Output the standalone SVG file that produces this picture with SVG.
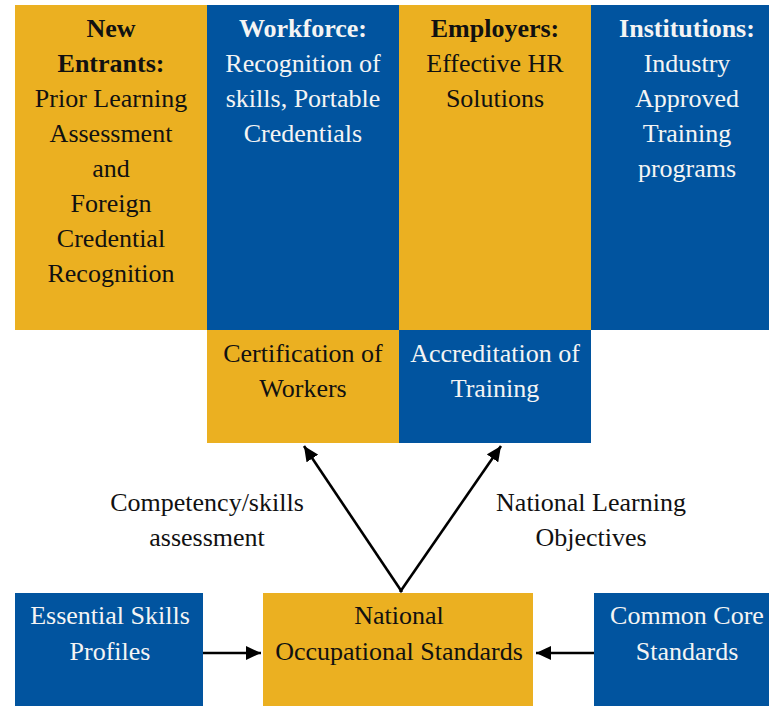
<svg xmlns="http://www.w3.org/2000/svg" width="769" height="707" viewBox="0 0 769 707">
<style>
.y{fill:#EBB021}
.b{fill:#01549F}
text,tspan{font-family:'Liberation Serif',serif !important}
text{font-size:26px;text-anchor:middle}
.dk{fill:#111}
.wt{fill:#F4F4F4}
.h{font-weight:bold}
.ln{stroke:#000;stroke-width:2.6;fill:none}
</style>
<defs>
<marker id="ah" markerUnits="userSpaceOnUse" markerWidth="16" markerHeight="14" refX="15" refY="7" orient="auto">
<path d="M0,0 L15,7 L0,14 z" fill="#000"/>
</marker>
</defs>
<rect width="769" height="707" fill="#fff"/>
<g id="new-entrants">
<rect class="y" x="15" y="5" width="192" height="325"/>
<text class="dk"><tspan class="h" x="111" y="37">New</tspan><tspan class="h" x="111" y="72">Entrants:</tspan><tspan x="111" y="107">Prior Learning</tspan><tspan x="111" y="142">Assessment</tspan><tspan x="111" y="177">and</tspan><tspan x="111" y="212">Foreign</tspan><tspan x="111" y="247">Credential</tspan><tspan x="111" y="282">Recognition</tspan></text>
</g>
<g id="workforce">
<rect class="b" x="207" y="5" width="192" height="325"/>
<text class="wt"><tspan class="h" x="303" y="37">Workforce:</tspan><tspan x="303" y="72">Recognition of</tspan><tspan x="303" y="107">skills, Portable</tspan><tspan x="303" y="142">Credentials</tspan></text>
</g>
<g id="employers">
<rect class="y" x="399" y="5" width="192" height="325"/>
<text class="dk"><tspan class="h" x="495" y="37">Employers:</tspan><tspan x="495" y="72">Effective HR</tspan><tspan x="495" y="107">Solutions</tspan></text>
</g>
<g id="institutions">
<rect class="b" x="591" y="5" width="178" height="325"/>
<text class="wt"><tspan class="h" x="687" y="37">Institutions:</tspan><tspan x="687" y="72">Industry</tspan><tspan x="687" y="107">Approved</tspan><tspan x="687" y="142">Training</tspan><tspan x="687" y="177">programs</tspan></text>
</g>
<g id="certification">
<rect class="y" x="207" y="330" width="192" height="113"/>
<text class="dk"><tspan x="303" y="362">Certification of</tspan><tspan x="303" y="397">Workers</tspan></text>
</g>
<g id="accreditation">
<rect class="b" x="399" y="330" width="192" height="113"/>
<text class="wt"><tspan x="495" y="362">Accreditation of</tspan><tspan x="495" y="397">Training</tspan></text>
</g>
<g id="essential-skills">
<rect class="b" x="15" y="593" width="188" height="113"/>
<text class="wt"><tspan x="110" y="624">Essential Skills</tspan><tspan x="110" y="660">Profiles</tspan></text>
</g>
<g id="nos">
<rect class="y" x="263" y="593" width="270" height="113"/>
<text class="dk"><tspan x="399" y="624">National</tspan><tspan x="399" y="660">Occupational Standards</tspan></text>
</g>
<g id="common-core">
<rect class="b" x="594" y="593" width="175" height="113"/>
<text class="wt"><tspan x="687" y="624">Common Core</tspan><tspan x="687" y="660">Standards</tspan></text>
</g>
<g id="connectors">
<line class="ln" x1="402" y1="592" x2="304" y2="446" marker-end="url(#ah)"/>
<line class="ln" x1="400" y1="592" x2="501" y2="446" marker-end="url(#ah)"/>
<line class="ln" x1="203" y1="653" x2="261" y2="653" marker-end="url(#ah)"/>
<line class="ln" x1="594" y1="653" x2="536" y2="653" marker-end="url(#ah)"/>
<text class="dk"><tspan x="207" y="511">Competency/skills</tspan><tspan x="207" y="546">assessment</tspan></text>
<text class="dk"><tspan x="591" y="511">National Learning</tspan><tspan x="591" y="546">Objectives</tspan></text>
</g>
</svg>
